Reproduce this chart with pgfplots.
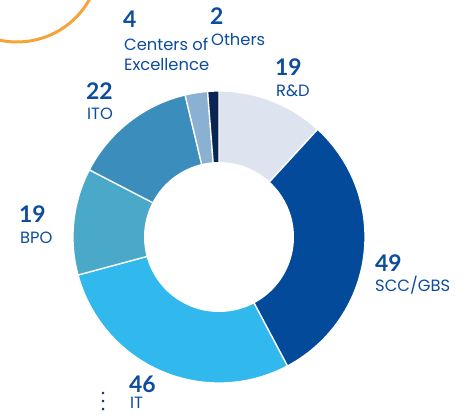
\documentclass[border=0pt]{standalone}
\usepackage{pgfplots}
\usepackage{pgfplotstable}
\pgfplotsset{compat=1.18}
\usepackage{fontspec}
\setmainfont{Lato}
\newfontfamily\labfont{Poppins}
\definecolor{cRD}{HTML}{DDE4F0}
\definecolor{cSCC}{HTML}{034A9A}
\definecolor{cIT}{HTML}{31B8EC}
\definecolor{cBPO}{HTML}{4AA9C9}
\definecolor{cITO}{HTML}{3B8EBB}
\definecolor{cCoE}{HTML}{8AB1D2}
\definecolor{cOth}{HTML}{0B2655}
\definecolor{txt}{HTML}{0D4C9E}
\definecolor{orng}{HTML}{F5A33B}
\pgfplotstableread{
label value color
RD  19 cRD
SCC 49 cSCC
IT  46 cIT
BPO 19 cBPO
ITO 22 cITO
CoE 4  cCoE
Oth 2  cOth
}\datatable
\newcommand{\num}[1]{{\fontsize{23}{26}\selectfont\bfseries #1}}
\newcommand{\lab}[1]{{\labfont\fontsize{16.4}{20}\selectfont #1}}
\begin{document}
\begin{tikzpicture}
\begin{axis}[
  scale only axis, width=470bp, height=414bp,
  xmin=0, xmax=470, ymin=0, ymax=414, y dir=reverse,
  enlargelimits=false, hide axis, clip=true,
]
% orange decorative arc
\addplot[orng, line width=3bp, domain=0:360, samples=120, variable=\t]
  ({17+83*cos(t)},{-41+83*sin(t)});
% total
\pgfplotstablegetrowsof{\datatable}
\pgfmathtruncatemacro\N{\pgfplotsretval-1}
\def\total{0}
\pgfplotsforeachungrouped \i in {0,...,\N}{%
  \pgfplotstablegetelem{\i}{value}\of{\datatable}\let\v\pgfplotsretval
  \pgfmathsetmacro\total{\total+\v}%
}
\def\cum{0}
\pgfplotsforeachungrouped \i in {0,...,\N}{%
  \pgfplotstablegetelem{\i}{value}\of{\datatable}\let\v\pgfplotsretval
  \pgfplotstablegetelem{\i}{color}\of{\datatable}\let\c\pgfplotsretval
  \pgfmathsetmacro\aA{90-(\cum/\total)*360}%
  \pgfmathsetmacro\cum{\cum+\v}%
  \pgfmathsetmacro\aB{90-(\cum/\total)*360}%
  \edef\temp{\noexpand\addplot[fill=\c, draw=white, line width=1.3bp, domain=\aB:\aA, samples=60, variable=\noexpand\t]
    ({219+146*cos(\noexpand\t)},{237-146*sin(\noexpand\t)}) -- (axis cs:219,237) -- cycle;}%
  \temp
}
% hole
\addplot[fill=white, draw=none, domain=0:360, samples=120, variable=\t]
  ({219+75*cos(t)},{237-75*sin(t)}) -- cycle;
% dots
\addplot[only marks, mark=*, mark size=1.2bp, color=cOth] coordinates {(103,393) (103,401) (103,409)};
% labels
\node[anchor=base west, text=txt, inner sep=0pt] at (axis cs:123,27) {\num{4}};
\node[anchor=base west, text=txt, inner sep=0pt] at (axis cs:124,50) {\lab{Centers of}};
\node[anchor=base west, text=txt, inner sep=0pt] at (axis cs:124,70) {\lab{Excellence}};
\node[anchor=base west, text=txt, inner sep=0pt] at (axis cs:210,24) {\num{2}};
\node[anchor=base west, text=txt, inner sep=0pt] at (axis cs:211,45) {\lab{Others}};
\node[anchor=base west, text=txt, inner sep=0pt] at (axis cs:275,75) {\num{19}};
\node[anchor=base west, text=txt, inner sep=0pt] at (axis cs:276,96) {\lab{R\&D}};
\node[anchor=base west, text=txt, inner sep=0pt] at (axis cs:86,99) {\num{22}};
\node[anchor=base west, text=txt, inner sep=0pt] at (axis cs:87,119) {\lab{ITO}};
\node[anchor=base west, text=txt, inner sep=0pt] at (axis cs:19,222) {\num{19}};
\node[anchor=base west, text=txt, inner sep=0pt] at (axis cs:20,243) {\lab{BPO}};
\node[anchor=base west, text=txt, inner sep=0pt] at (axis cs:375,271) {\num{49}};
\node[anchor=base west, text=txt, inner sep=0pt] at (axis cs:375,291) {\lab{SCC/GBS}};
\node[anchor=base west, text=txt, inner sep=0pt] at (axis cs:129,392) {\num{46}};
\node[anchor=base west, text=txt, inner sep=0pt] at (axis cs:130,408) {\lab{IT}};
\end{axis}
\pgfresetboundingbox
\useasboundingbox (current axis.south west) rectangle (current axis.north east);
\end{tikzpicture}
\end{document}
